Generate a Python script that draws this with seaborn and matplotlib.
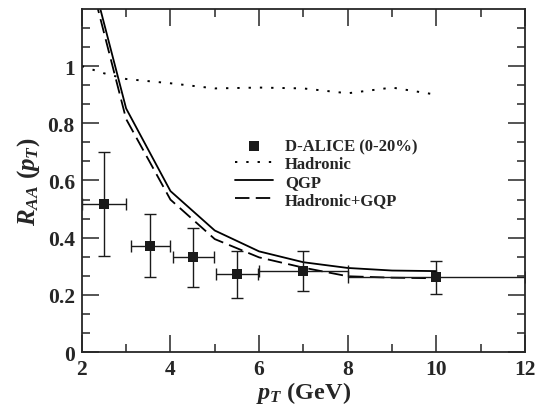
import numpy as np
import pandas as pd
import matplotlib
matplotlib.use("Agg")
import matplotlib.pyplot as plt
from matplotlib.ticker import FixedLocator, FuncFormatter
import seaborn as sns

# D-ALICE (0-20%) points
alice_pt = [2.5, 3.55, 4.52, 5.5, 7.0, 10.0]
alice_raa = [0.517, 0.372, 0.332, 0.274, 0.284, 0.261]
alice_xerr = [0.5, 0.45, 0.47, 0.47, 1.0, 2.0]
alice_yerr_lo = [0.18, 0.11, 0.103, 0.084, 0.069, 0.059]
alice_yerr_hi = [0.183, 0.112, 0.101, 0.081, 0.068, 0.058]

# model curves
had_pt = [2.0, 2.5, 3.0, 4.0, 5.0, 6.0, 7.0, 8.0, 9.0, 10.0]
had_raa = [1.0, 0.975, 0.955, 0.94, 0.922, 0.925, 0.922, 0.905, 0.925, 0.9]

qgp_pt = [2.0, 3.0, 4.0, 5.0, 6.0, 7.0, 8.0, 9.0, 10.0]
qgp_raa = [1.45, 0.852, 0.563, 0.425, 0.352, 0.314, 0.294, 0.285, 0.283]

hq_pt = [2.0, 3.0, 4.0, 5.0, 6.0, 7.0, 8.0, 9.0, 10.0]
hq_raa = [1.42, 0.815, 0.533, 0.395, 0.331, 0.295, 0.265, 0.26, 0.258]

sns.set_style("ticks")
plt.rcParams['font.family'] = ['Liberation Serif', 'DejaVu Serif']
plt.rcParams['font.weight'] = 'bold'
plt.rcParams['mathtext.fontset'] = 'custom'
plt.rcParams['mathtext.rm'] = 'Liberation Serif:bold'
plt.rcParams['mathtext.it'] = 'Liberation Serif:bold:italic'
plt.rcParams['mathtext.bf'] = 'Liberation Serif:bold'

fig = plt.figure(figsize=(5.38, 4.06), dpi=100)
ax = fig.add_axes([0.152, 0.1305, 0.824, 0.845])

df_had = pd.DataFrame({'pt': had_pt, 'raa': had_raa})
df_qgp = pd.DataFrame({'pt': qgp_pt, 'raa': qgp_raa})
df_hq = pd.DataFrame({'pt': hq_pt, 'raa': hq_raa})

sns.lineplot(data=df_had, x='pt', y='raa', ax=ax, color='black', lw=1.4,
             linestyle=(0, (1.2, 4.6)), label='Hadronic', sort=False)
sns.lineplot(data=df_qgp, x='pt', y='raa', ax=ax, color='black', lw=1.3,
             label='QGP', sort=False)
sns.lineplot(data=df_hq, x='pt', y='raa', ax=ax, color='black', lw=1.3,
             linestyle=(0, (8, 3.5)), label='Hadronic+GQP', sort=False)

ax.errorbar(alice_pt, alice_raa, xerr=alice_xerr,
            yerr=[alice_yerr_lo, alice_yerr_hi], fmt='none',
            ecolor='#1a1a1a', elinewidth=1.0, capsize=4, capthick=1.0)
sns.scatterplot(x=alice_pt, y=alice_raa, ax=ax, marker='s', s=55,
                color='#1a1a1a', edgecolor='#1a1a1a', linewidth=0,
                label='D-ALICE (0-20%)', zorder=5)

ax.set_xlim(2, 12)
ax.set_ylim(0, 1.2)
ax.xaxis.set_major_locator(FixedLocator([2, 4, 6, 8, 10, 12]))
ax.xaxis.set_minor_locator(FixedLocator([3, 5, 7, 9, 11]))
ax.yaxis.set_major_locator(FixedLocator([0, 0.2, 0.4, 0.6, 0.8, 1.0]))
ax.yaxis.set_minor_locator(FixedLocator(np.arange(0, 1.19, 0.2 / 3)))
ax.yaxis.set_major_formatter(FuncFormatter(lambda v, p: '%g' % round(v, 2)))

ax.tick_params(which='both', direction='in', top=True, right=True,
               width=1.1, labelsize=15.5)
ax.tick_params(which='major', length=12, pad=5)
ax.tick_params(which='minor', length=6)
for sp in ax.spines.values():
    sp.set_linewidth(1.3)
    sp.set_visible(True)

ax.set_xlabel(r'$p_T$ (GeV)', fontsize=17.5, fontweight='bold', labelpad=0)
ax.set_ylabel(r'$R_{AA}\ (p_T)$', fontsize=18, fontweight='bold', labelpad=4)

h, l = ax.get_legend_handles_labels()
order = [l.index('D-ALICE (0-20%)'), l.index('Hadronic'), l.index('QGP'),
         l.index('Hadronic+GQP')]
ax.legend([h[i] for i in order], [l[i] for i in order], loc='upper left',
          bbox_to_anchor=(0.345, 0.624), frameon=False, fontsize=12,
          handlelength=2.3, handletextpad=0.72, labelspacing=0.12,
          borderpad=0, borderaxespad=0)

fig.savefig('out.png', dpi=100)
